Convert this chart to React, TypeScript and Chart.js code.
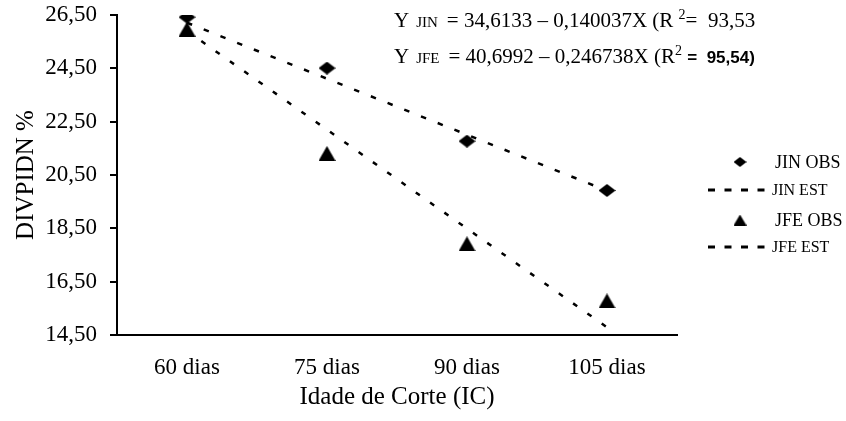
import React, { useEffect, useRef } from "react";
import { Chart, registerables } from "chart.js";
Chart.register(...registerables);

const categories = ["60 dias", "75 dias", "90 dias", "105 dias"];
const jinObs = [26.42, 24.51, 21.77, 19.92];
const jfeObs = [25.97, 21.31, 17.92, 15.78];
const jinEst = [26.21, 24.11, 22.01, 19.91];
const jfeEst = [25.9, 22.2, 18.49, 14.79];
const yTicks = [14.5, 16.5, 18.5, 20.5, 22.5, 24.5, 26.5];
const seriesLabels = ["JIN OBS", "JIN EST", "JFE OBS", "JFE EST"];
const yTitle = "DIVPIDN %";
const xTitle = "Idade de Corte (IC)";
const eqJin = ["Y", "JIN", "= 34,6133 – 0,140037X (R ", "2", "=  93,53"];
const eqJfe = ["Y", "JFE", "= 40,6992 – 0,246738X (R", "2", " ", "=  95,54)"];

const SERIF = "'Liberation Serif', 'Times New Roman', serif";

function makeMarker(kind: string, w: number, h: number) {
  const c = document.createElement("canvas");
  c.width = w;
  c.height = h;
  const g = c.getContext("2d")!;
  g.fillStyle = "#000";
  g.beginPath();
  if (kind === "diamond") {
    g.moveTo(w / 2, 0);
    g.lineTo(w, h / 2);
    g.lineTo(w / 2, h);
    g.lineTo(0, h / 2);
  } else {
    g.moveTo(w / 2, 0);
    g.lineTo(w, h);
    g.lineTo(0, h);
  }
  g.closePath();
  g.fill();
  return c;
}

type Part = { t: string; font: string; dy?: number; gap?: number };

function drawRich(ctx: CanvasRenderingContext2D, x: number, y: number, parts: Part[]) {
  let cx = x;
  for (const p of parts) {
    ctx.font = p.font;
    ctx.fillText(p.t, cx, y + (p.dy || 0));
    cx += ctx.measureText(p.t).width + (p.gap || 0);
  }
}

export default function App() {
  const ref = useRef<HTMLCanvasElement>(null);
  useEffect(() => {
    const canvas = ref.current!;
    const diamond = makeMarker("diamond", 17, 13);
    const triangle = makeMarker("triangle", 17, 15);
    const legDiamond = makeMarker("diamond", 13, 10);
    const legTriangle = makeMarker("triangle", 13, 11);

    const overlay = {
      id: "overlay",
      afterDraw(chart: any) {
        const ctx: CanvasRenderingContext2D = chart.ctx;
        ctx.save();
        ctx.fillStyle = "#000";
        ctx.textBaseline = "alphabetic";
        ctx.textAlign = "left";
        const big = `21px ${SERIF}`;
        const small = `15px ${SERIF}`;
        const sup = `14px ${SERIF}`;
        drawRich(ctx, 394, 27, [
          { t: eqJin[0], font: big, gap: 7 },
          { t: eqJin[1], font: small, gap: 9 },
          { t: eqJin[2], font: big },
          { t: eqJin[3], font: sup, dy: -8 },
          { t: eqJin[4], font: big },
        ]);
        drawRich(ctx, 394, 63, [
          { t: eqJfe[0], font: big, gap: 7 },
          { t: eqJfe[1], font: small, gap: 9 },
          { t: eqJfe[2], font: big },
          { t: eqJfe[3], font: sup, dy: -8 },
          { t: eqJfe[4], font: big },
          { t: eqJfe[5], font: `bold 17px 'Liberation Sans', Arial, sans-serif` },
        ]);

        // legend
        ctx.textBaseline = "middle";
        const rows = [162, 190, 220, 247];
        ctx.drawImage(legDiamond, 740 - 6.5, rows[0] - 5);
        ctx.drawImage(legTriangle, 740 - 6.5, rows[2] - 5.5);
        ctx.lineWidth = 3;
        ctx.strokeStyle = "#000";
        ctx.setLineDash([7, 9.5]);
        for (const r of [rows[1], rows[3]]) {
          ctx.beginPath();
          ctx.moveTo(708, r);
          ctx.lineTo(771, r);
          ctx.stroke();
        }
        ctx.setLineDash([]);
        ctx.font = `18px ${SERIF}`;
        ctx.fillText(seriesLabels[0], 775, rows[0] + 1);
        ctx.fillText(seriesLabels[2], 775, rows[2] + 1);
        ctx.font = `16px ${SERIF}`;
        ctx.fillText(seriesLabels[1], 772, rows[1] + 1);
        ctx.fillText(seriesLabels[3], 772, rows[3] + 1);
        ctx.restore();
      },
    };

    const chart = new Chart(canvas, {
      type: "line",
      data: {
        labels: categories,
        datasets: [
          {
            label: seriesLabels[0],
            data: jinObs,
            showLine: false,
            pointStyle: diamond as any,
            pointRadius: 8,
            borderColor: "#000",
            backgroundColor: "#000",
          },
          {
            label: seriesLabels[2],
            data: jfeObs,
            showLine: false,
            pointStyle: triangle as any,
            pointRadius: 8,
            borderColor: "#000",
            backgroundColor: "#000",
          },
          {
            label: seriesLabels[1],
            data: jinEst,
            pointRadius: 0,
            borderColor: "#000",
            borderWidth: 2.5,
            borderDash: [5.5, 12.5],
            borderCapStyle: "butt",
            fill: false,
            tension: 0,
          },
          {
            label: seriesLabels[3],
            data: jfeEst,
            pointRadius: 0,
            borderColor: "#000",
            borderWidth: 2.5,
            borderDash: [5, 12.5],
            borderCapStyle: "butt",
            fill: false,
            tension: 0,
          },
        ],
      },
      options: {
        responsive: false,
        animation: false,
        events: [],
        layout: { padding: { top: 15, right: 169, bottom: 0, left: 0 } },
        plugins: {
          legend: { display: false },
          tooltip: { enabled: false },
        },
        scales: {
          x: {
            offset: true,
            grid: { display: false, drawTicks: false },
            border: { display: true, color: "#000", width: 2 },
            ticks: {
              color: "#000",
              font: { family: SERIF, size: 23 },
              padding: 19,
              maxRotation: 0,
            },
            title: {
              display: true,
              text: xTitle,
              color: "#000",
              font: { family: SERIF, size: 25 },
              padding: { top: 0, bottom: 9 },
            },
            afterFit: (s: any) => {
              s.height = 421 - 335;
              s.paddingLeft = 0;
              s.paddingRight = 0;
            },
          },
          y: {
            min: 14.5,
            max: 26.5,
            afterBuildTicks: (s: any) => {
              s.ticks = yTicks.map((v) => ({ value: v }));
            },
            grid: {
              drawOnChartArea: false,
              drawTicks: true,
              tickLength: 7,
              color: "#000",
              lineWidth: 2,
            },
            border: { display: true, color: "#000", width: 2 },
            ticks: {
              color: "#000",
              font: { family: SERIF, size: 23 },
              padding: 13,
              callback: (v: any) => Number(v).toFixed(2).replace(".", ","),
            },
            title: {
              display: true,
              text: yTitle,
              color: "#000",
              font: { family: SERIF, size: 25 },
              padding: { top: 11, bottom: 0 },
            },
            afterFit: (s: any) => {
              s.width = 117;
              s.paddingTop = 0;
              s.paddingBottom = 0;
            },
          },
        },
      },
      plugins: [overlay],
    });
    return () => chart.destroy();
  }, []);

  return (
    <div style={{ position: "fixed", left: 0, top: 0, width: 846, height: 421, background: "#fff" }}>
      <canvas ref={ref} width={846} height={421} style={{ display: "block" }} />
    </div>
  );
}
